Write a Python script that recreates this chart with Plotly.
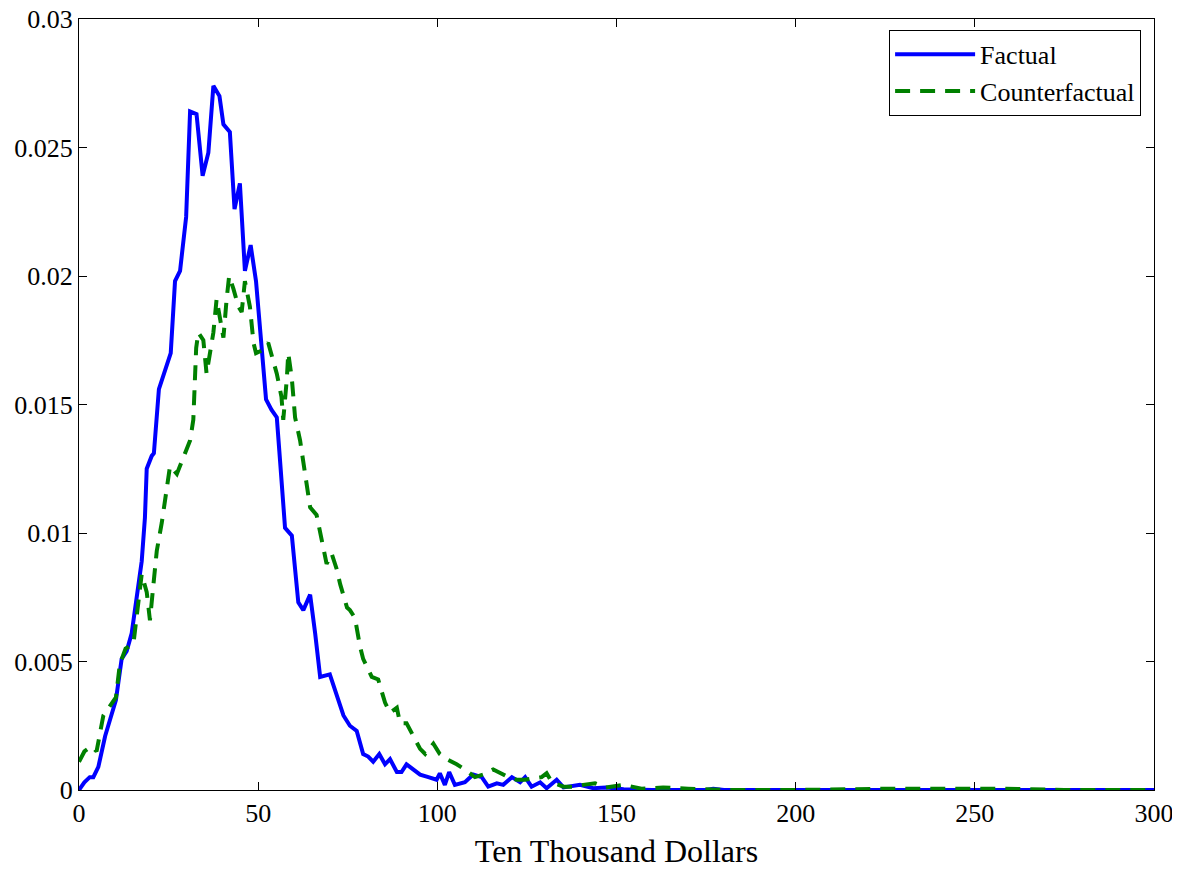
import plotly.graph_objects as go

factual = [
    (0, 0), (1.5, 0.0003), (3, 0.0005), (4, 0.0005), (5.4, 0.0009), (7.3, 0.0021), (8.8, 0.0028),
    (10.3, 0.0035), (11.9, 0.0051), (13.3, 0.0054), (14.7, 0.0061), (16.1, 0.0074), (17.5, 0.0089),
    (18.4, 0.0106), (18.9, 0.0125), (20.3, 0.0130), (20.9, 0.0131), (22.3, 0.0156), (23.8, 0.0162),
    (25.6, 0.0170), (26.8, 0.0198), (28.2, 0.0202), (29.9, 0.0223), (31.0, 0.0264), (32.8, 0.0263),
    (34.5, 0.0239), (36.1, 0.0248), (37.5, 0.0274), (39.2, 0.0270), (40.3, 0.0259), (42.1, 0.0256),
    (43.4, 0.0226), (44.9, 0.0236), (46.3, 0.0202), (47.9, 0.0212), (49.4, 0.0198), (50.8, 0.0175),
    (52.2, 0.0152), (53.7, 0.0148), (55.2, 0.0145), (55.9, 0.0132), (57.5, 0.0102), (59.4, 0.0099),
    (61.2, 0.0073), (62.6, 0.0070), (64.5, 0.0076), (65.9, 0.0061), (67.3, 0.0044), (70.0, 0.0045),
    (71.4, 0.0039), (72.8, 0.0033), (73.8, 0.0029), (75.6, 0.0025), (77.5, 0.0023), (79.3, 0.0014),
    (80.7, 0.0013), (82.1, 0.0011), (83.8, 0.0014), (85.4, 0.0010), (86.8, 0.0012), (88.7, 0.0007),
    (90.0, 0.0007), (91.4, 0.0010), (93.3, 0.0008), (95.2, 0.0006), (97.5, 0.0005), (99.8, 0.0004),
    (100.7, 0.00065), (102.1, 0.0002), (103.3, 0.0007), (104.9, 0.0002), (107.7, 0.0003),
    (110.0, 0.0006), (112.4, 0.0005), (114.2, 0.00013), (116.6, 0.00026), (118.4, 0.0002),
    (120.8, 0.0005), (123.1, 0.0003), (124.5, 0.0005), (126.3, 0.00013), (128.7, 0.0003),
    (130.5, 0.00007), (133.3, 0.0004), (135.2, 0.0001), (139.8, 0.0002), (143.5, 0.00007),
    (147, 0.0001), (152, 0.00003), (160, 0), (175, 0), (177, 0.00005), (180, 0), (200, 0),
    (225, 0), (250, 0), (275, 0), (300, 0),
]

counterfactual = [
    (0, 0.0011), (1.5, 0.0015), (3.5, 0.0017), (4.9, 0.0015), (6.8, 0.0029), (9.1, 0.0034),
    (10.3, 0.0036), (11.4, 0.0049), (13, 0.0055), (15.2, 0.0057), (15.6, 0.0062), (16.6, 0.0071),
    (17.5, 0.0084), (18.9, 0.0077), (19.8, 0.0066), (20.7, 0.0079), (21.7, 0.0093), (23.1, 0.0104),
    (24.5, 0.0119), (25.4, 0.0126), (27.3, 0.0123), (28.5, 0.0127), (30.1, 0.0132), (31.0, 0.0136),
    (31.9, 0.0144), (32.4, 0.0160), (32.7, 0.0172), (33.3, 0.0178), (34.7, 0.0175), (35.6, 0.0162),
    (36.6, 0.0170), (37.5, 0.0178), (38.4, 0.0191), (39.4, 0.0184), (40.3, 0.0176), (41.2, 0.0191),
    (41.9, 0.0200), (43.1, 0.0195), (44.5, 0.0188), (45.4, 0.0186), (46.3, 0.0198), (47.7, 0.0188),
    (48.7, 0.0174), (49.4, 0.0170), (51.0, 0.0171), (52.8, 0.0174), (53.8, 0.0169), (55.2, 0.0162),
    (56.5, 0.0153), (57.0, 0.0144), (58.0, 0.0160), (58.4, 0.0170), (59.4, 0.0160), (60.3, 0.0145),
    (61.7, 0.0136), (63.5, 0.0119), (64.5, 0.0110), (66.3, 0.0107), (67.7, 0.0097), (69.1, 0.0088),
    (70.5, 0.0092), (71.9, 0.0086), (72.9, 0.0080), (74.8, 0.0071), (75.6, 0.0070), (77.0, 0.0067),
    (78.4, 0.0056), (79.3, 0.0051), (81.7, 0.0044), (83.5, 0.0043), (85.4, 0.0034), (86.8, 0.0030),
    (88.7, 0.0032), (89.6, 0.0026), (91.4, 0.0026), (93.3, 0.0021), (95.2, 0.0016), (96.6, 0.0014),
    (98.9, 0.0018), (100.7, 0.0014), (102.6, 0.0012), (105.4, 0.0010), (107.7, 0.0008),
    (110.5, 0.0005), (112.8, 0.0006), (115.6, 0.0008), (119.8, 0.0005), (122.1, 0.0004),
    (124.5, 0.0004), (126.8, 0.00045), (129.1, 0.0005), (130.5, 0.00065), (132, 0.0003),
    (135.2, 0.00013), (138, 0.00013), (140.7, 0.0002), (144, 0.00026), (147, 0.0001),
    (152, 0.0002), (157, 0.00005), (163, 0.0001), (170, 0.00005), (180, 0), (200, 0),
    (225, 0.00005), (258, 0.00005), (275, 0), (300, 0),
]

x_ticks = [0, 50, 100, 150, 200, 250, 300]
y_ticks = [0, 0.005, 0.01, 0.015, 0.02, 0.025, 0.03]
y_tick_labels = ["0", "0.005", "0.01", "0.015", "0.02", "0.025", "0.03"]

fig = go.Figure()
fig.add_trace(go.Scatter(
    x=[p[0] for p in factual], y=[p[1] for p in factual],
    mode="lines", name="Factual",
    line=dict(color="#0000FF", width=4),
))
fig.add_trace(go.Scatter(
    x=[p[0] for p in counterfactual], y=[p[1] for p in counterfactual],
    mode="lines", name="Counterfactual",
    line=dict(color="#008000", width=4, dash="15px,10px"),
))

axis_common = dict(
    showline=True, linecolor="black", linewidth=1, mirror="ticks",
    ticks="inside", ticklen=8, tickcolor="black", tickwidth=1,
    showgrid=False, zeroline=False, automargin=False,
    ticklabeloverflow="allow",
    tickfont=dict(family="Liberation Serif", size=26, color="black"),
)

# page body has an 8px default margin, so the figure is sized to fit the window
fig.update_layout(
    width=1172, height=861,
    margin=dict(l=71, r=26, t=11, b=79),
    paper_bgcolor="white", plot_bgcolor="white",
    font=dict(family="Liberation Serif", color="black"),
    xaxis=dict(range=[0, 300], tickvals=x_ticks,
               title=dict(text="Ten Thousand Dollars", font=dict(family="Liberation Serif", size=32, color="black"), standoff=14),
               **axis_common),
    yaxis=dict(range=[0, 0.03], tickvals=y_ticks, ticktext=y_tick_labels, **axis_common),
    legend=dict(x=0.988, y=0.986, xanchor="right", yanchor="top",
                bordercolor="black", borderwidth=1, bgcolor="white",
                font=dict(family="Liberation Serif", size=26, color="black"),
                itemwidth=80, tracegroupgap=0),
    showlegend=True,
)

fig.write_html("out.html")
